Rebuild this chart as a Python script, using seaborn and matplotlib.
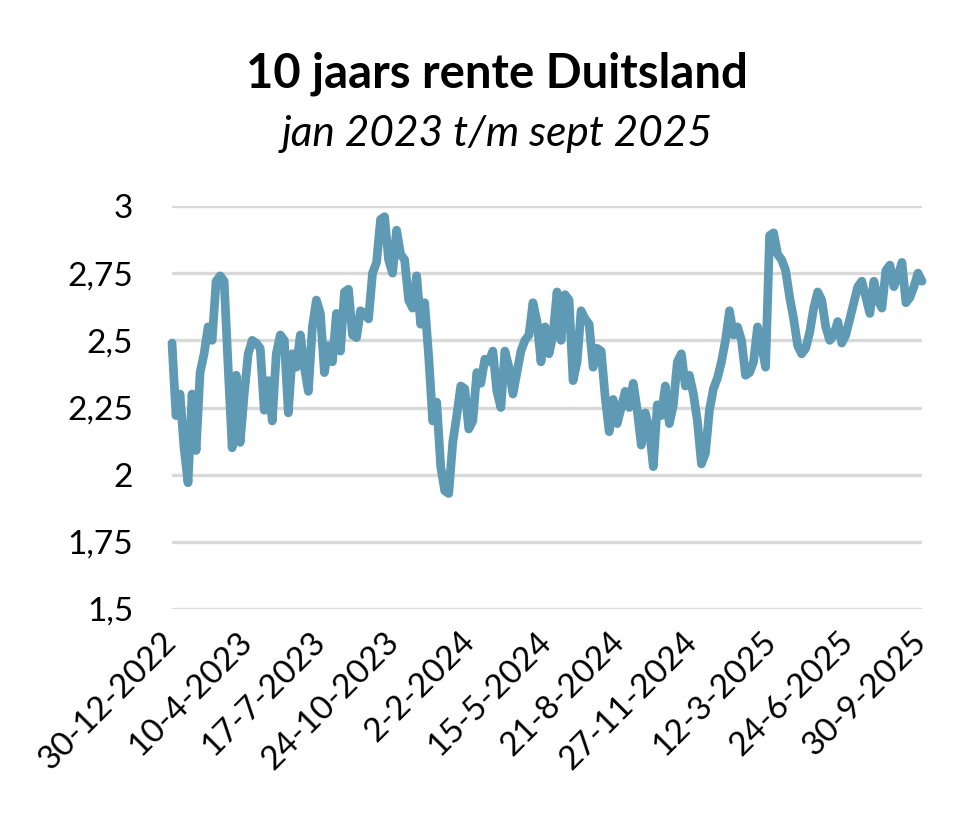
import pandas as pd
import seaborn as sns
import matplotlib.pyplot as plt
import matplotlib.transforms as mtransforms

# Chart text
title = "10 jaars rente Duitsland"
subtitle = "jan 2023 t/m sept 2025"

# 10-year German yield (roughly every 4 px)
rente = [
    2.49, 2.22, 2.30, 2.10, 1.97, 2.30, 2.09, 2.38, 2.45, 2.55,
    2.50, 2.72, 2.74, 2.72, 2.40, 2.10, 2.37, 2.12, 2.30, 2.45,
    2.50, 2.49, 2.47, 2.24, 2.35, 2.20, 2.45, 2.52, 2.50, 2.23,
    2.45, 2.40, 2.52, 2.40, 2.31, 2.55, 2.65, 2.60, 2.38, 2.48,
    2.42, 2.60, 2.46, 2.68, 2.69, 2.52, 2.51, 2.61, 2.60, 2.58,
    2.75, 2.79, 2.95, 2.96, 2.80, 2.75, 2.91, 2.82, 2.80, 2.65,
    2.62, 2.74, 2.56, 2.64, 2.44, 2.20, 2.27, 2.03, 1.94, 1.93,
    2.12, 2.22, 2.33, 2.32, 2.17, 2.20, 2.38, 2.34, 2.43, 2.42,
    2.46, 2.31, 2.25, 2.46, 2.40, 2.30, 2.38, 2.46, 2.50, 2.52,
    2.64, 2.57, 2.42, 2.55, 2.45, 2.52, 2.68, 2.50, 2.67, 2.65,
    2.35, 2.42, 2.61, 2.58, 2.56, 2.40, 2.47, 2.46, 2.29, 2.16,
    2.28, 2.19, 2.25, 2.31, 2.25, 2.34, 2.24, 2.11, 2.23, 2.17,
    2.03, 2.26, 2.22, 2.33, 2.19, 2.26, 2.42, 2.45, 2.33, 2.37,
    2.30, 2.20, 2.04, 2.08, 2.24, 2.32, 2.36, 2.42, 2.50, 2.61,
    2.52, 2.55, 2.50, 2.37, 2.38, 2.42, 2.55, 2.48, 2.40, 2.89,
    2.90, 2.82, 2.80, 2.76, 2.66, 2.58, 2.48, 2.45, 2.47, 2.53,
    2.62, 2.68, 2.65, 2.55, 2.50, 2.52, 2.57, 2.49, 2.52, 2.58,
    2.64, 2.70, 2.72, 2.66, 2.60, 2.72, 2.65, 2.62, 2.76, 2.78,
    2.70, 2.74, 2.79, 2.64, 2.66, 2.70, 2.75, 2.72,
]
datums = pd.date_range("2022-12-30", "2025-09-30", periods=len(rente))

# Axis labels
x_labels = ["30-12-2022", "10-4-2023", "17-7-2023", "24-10-2023", "2-2-2024",
            "15-5-2024", "21-8-2024", "27-11-2024", "12-3-2025", "24-6-2025",
            "30-9-2025"]
y_ticks = [1.5, 1.75, 2.0, 2.25, 2.5, 2.75, 3.0]
y_labels = ["1,5", "1,75", "2", "2,25", "2,5", "2,75", "3"]

df = pd.DataFrame({"datum": datums, "rente": rente})

sns.set_theme(style="white")
plt.rcParams["font.family"] = ["Lato", "DejaVu Sans"]
plt.rcParams["text.color"] = "black"

fig = plt.figure(figsize=(9.78, 8.24), dpi=100)
ax = fig.add_axes([172 / 978, (824 - 609) / 824, 750 / 978, 403 / 824])

sns.lineplot(data=df, x="datum", y="rente", ax=ax, color="#5E9AB3",
             linewidth=6.3, solid_joinstyle="round", solid_capstyle="round",
             clip_on=False, zorder=3)

ax.set_xlim(datums[0], datums[-1])
ax.set_ylim(1.5, 3.0)
ax.set_yticks(y_ticks)
ax.set_yticklabels(y_labels, fontsize=24, color="black")
tick_pos = pd.to_datetime(x_labels, format="%d-%m-%Y")
ax.set_xticks(tick_pos)
ax.set_xticklabels(x_labels, fontsize=24, color="black", rotation=45,
                   ha="right", va="center", rotation_mode="anchor")
offset = mtransforms.ScaledTranslation(-5 / 100, 0, fig.dpi_scale_trans)
for lbl in ax.get_xticklabels():
    lbl.set_transform(lbl.get_transform() + offset)

ax.set_xlabel("")
ax.set_ylabel("")
ax.yaxis.grid(True, color="#D9D9D9", linewidth=2.4)
ax.xaxis.grid(False)
ax.set_axisbelow(True)
ax.tick_params(axis="y", length=0, pad=28)
ax.tick_params(axis="x", length=0, pad=20)
sns.despine(ax=ax, left=True, bottom=True)

fig.text(0.508, 1 - 88 / 824, title, ha="center", va="baseline",
         fontsize=34, fontweight="bold")
fig.text(0.508, 1 - 146 / 824, subtitle, ha="center", va="baseline",
         fontsize=30.5, fontstyle="italic")

fig.savefig("out.png", dpi=100)
